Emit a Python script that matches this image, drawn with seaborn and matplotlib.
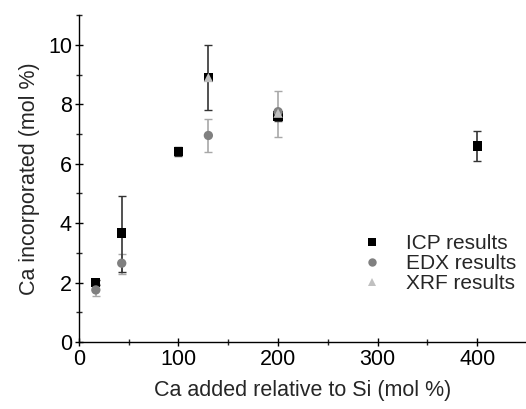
import numpy as np
import pandas as pd
import matplotlib
matplotlib.use('Agg')
import matplotlib.pyplot as plt
import seaborn as sns
from matplotlib.ticker import MultipleLocator

# data
icp_x = [17, 43, 100, 130, 200, 400]
icp_y = [2.0, 3.67, 6.42, 8.9, 7.6, 6.6]
icp_lo = [0.1, 1.3, 0.15, 1.1, 0.15, 0.5]
icp_hi = [0.1, 1.25, 0.15, 1.1, 0.15, 0.5]

edx_x = [17, 43, 130, 200]
edx_y = [1.75, 2.65, 6.95, 7.75]
edx_lo = [0.2, 0.35, 0.55, 0.85]
edx_hi = [0.2, 0.3, 0.55, 0.7]

xrf_x = [130, 200]
xrf_y = [8.9, 7.7]

sns.set_style('ticks')
plt.rcParams['font.family'] = ['Liberation Sans', 'DejaVu Sans']

fig = plt.figure(figsize=(5.26, 4.09), dpi=100)
ax = fig.add_axes([0.150, 0.164, 0.852, 0.799])

ax.errorbar(edx_x, edx_y, yerr=[edx_lo, edx_hi], fmt='none', ecolor='#a8a8a8',
            elinewidth=1.2, capsize=3, zorder=2)
ax.errorbar(icp_x, icp_y, yerr=[icp_lo, icp_hi], fmt='none', ecolor='#333333',
            elinewidth=1.2, capsize=3, zorder=2)

df = pd.concat([
    pd.DataFrame({'x': icp_x, 'y': icp_y, 'method': 'ICP results'}),
    pd.DataFrame({'x': edx_x, 'y': edx_y, 'method': 'EDX results'}),
    pd.DataFrame({'x': xrf_x, 'y': xrf_y, 'method': 'XRF results'}),
])
sns.scatterplot(data=df, x='x', y='y', hue='method', style='method',
                palette={'ICP results': 'black', 'EDX results': '#808080', 'XRF results': '#c0c0c0'},
                markers={'ICP results': 's', 'EDX results': 'o', 'XRF results': '^'},
                s=45, edgecolor='none', linewidth=0, ax=ax, zorder=3)

ax.set_xlim(0, 450)
ax.set_ylim(0, 11)
ax.xaxis.set_major_locator(MultipleLocator(100))
ax.xaxis.set_minor_locator(MultipleLocator(50))
ax.yaxis.set_major_locator(MultipleLocator(2))
ax.yaxis.set_minor_locator(MultipleLocator(1))
ax.tick_params(which='major', direction='inout', length=6, width=1, labelsize=15.5,
               colors='black', pad=2)
ax.tick_params(which='minor', direction='inout', length=4, width=1)
for s in ['top', 'right']:
    ax.spines[s].set_visible(False)
for s in ['left', 'bottom']:
    ax.spines[s].set_linewidth(1)
    ax.spines[s].set_color('black')

ax.set_xlabel('Ca added relative to Si (mol %)', fontsize=15.5, labelpad=7)
ax.set_ylabel('Ca incorporated (mol %)', fontsize=15.5, labelpad=6)

leg = ax.legend(loc='upper left', bbox_to_anchor=(0.59, 0.355), frameon=False,
                fontsize=15, handletextpad=0.6, labelspacing=0.05, borderaxespad=0,
                markerscale=0.9)

fig.savefig('out.png', dpi=100)
